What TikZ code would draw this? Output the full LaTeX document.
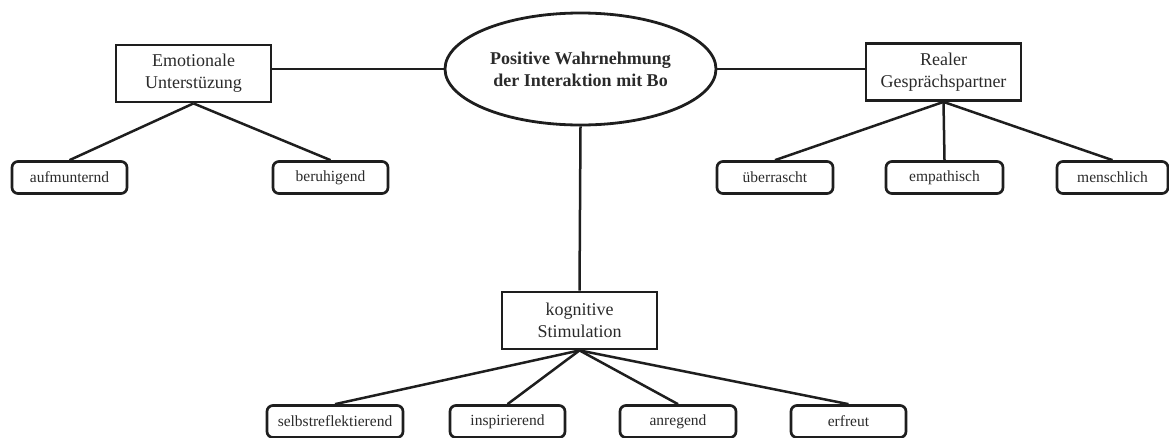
\documentclass[tikz,border=0pt]{standalone}
\usepackage{fontspec}
\setmainfont{Liberation Serif}
\usetikzlibrary{shapes.geometric}
\definecolor{ink}{HTML}{1E1E1E}
\definecolor{txt}{HTML}{2A2A2A}
\begin{document}
\begin{tikzpicture}[x=1pt,y=-1pt,
  mainbox/.style={draw=ink, line width=2.8pt, minimum width=155pt, minimum height=57pt,
    align=center, text=txt, font=\fontsize{18}{22}\selectfont, inner sep=0pt},
  leaf/.style={draw=ink, line width=2.7pt, rounded corners=6pt, minimum height=32pt,
    text=txt, font=\fontsize{15.5}{18}\selectfont, inner sep=0pt},
  link/.style={draw=ink, line width=2.5pt}]
\useasboundingbox (0,0) rectangle (1169,437);
\node[ellipse, draw=ink, line width=2.8pt, minimum width=271pt, minimum height=112pt,
  align=center, text=txt, font=\fontsize{18}{22}\selectfont\bfseries, inner sep=0pt]
  (ell) at (580.5,69) {Positive Wahrnehmung\\der Interaktion mit Bo};
\node[mainbox] (emo) at (193.5,73.5) {Emotionale\\Unterstüzung};
\node[mainbox] (real) at (943.5,72) {Realer\\Gesprächspartner};
\node[mainbox] (kog) at (579.5,320.5) {kognitive\\Stimulation};
\node[leaf, minimum width=115pt] (auf) at (69.5,177.5) {aufmunternd};
\node[leaf, minimum width=115pt] (ber) at (330.5,177.5) {beruhigend};
\node[leaf, minimum width=116pt] (ueb) at (775,177.5) {überrascht};
\node[leaf, minimum width=117pt] (emp) at (944.5,177.5) {empathisch};
\node[leaf, minimum width=111pt] (men) at (1112.5,177.5) {menschlich};
\node[leaf, minimum width=136pt] (sel) at (335,421.5) {selbstreflektierend};
\node[leaf, minimum width=115pt] (ins) at (507.5,421.5) {inspirierend};
\node[leaf, minimum width=116pt] (anr) at (678,421.5) {anregend};
\node[leaf, minimum width=115pt] (erf) at (848.5,421.5) {erfreut};
\draw[link] (ell.west) -- (ell.west -| emo.east);
\draw[link] (ell.east) -- (ell.east -| real.west);
\draw[link] (ell.south) -- (kog.north);
\draw[link] (emo.south) -- (auf.north);
\draw[link] (emo.south) -- (ber.north);
\draw[link] (real.south) -- (ueb.north);
\draw[link] (real.south) -- (emp.north);
\draw[link] (real.south) -- (men.north);
\draw[link] (kog.south) -- (sel.north);
\draw[link] (kog.south) -- (ins.north);
\draw[link] (kog.south) -- (anr.north);
\draw[link] (kog.south) -- (erf.north);
\end{tikzpicture}
\end{document}
